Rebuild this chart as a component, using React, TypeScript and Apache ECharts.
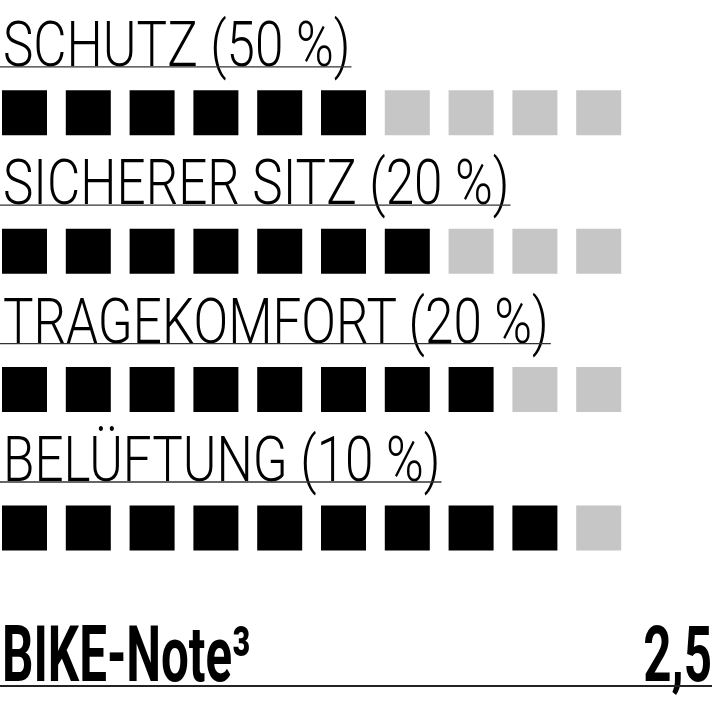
import { useEffect, useRef } from 'react';
import * as echarts from 'echarts';

const criteria = ['SCHUTZ (50 %)', 'SICHERER SITZ (20 %)', 'TRAGEKOMFORT (20 %)', 'BELÜFTUNG (10 %)'];
const scores = [6, 7, 8, 9];
const maxScore = 10;
const totalLabel = 'BIKE-Note³';
const totalValue = '2,5';

const FILLED = '#000000';
const EMPTY = '#c6c6c6';
const LABEL_FONT = '300 62px Roboto';
const LABEL_SCALE = 0.826;
const TOTAL_FONT = 'bold 77px Roboto';
const TOTAL_SCALE = 0.64;

let measureCtx: CanvasRenderingContext2D | null = null;
function textWidth(text: string, font: string) {
  if (!measureCtx) {
    measureCtx = document.createElement('canvas').getContext('2d');
  }
  if (!measureCtx) return text.length * 30;
  measureCtx.font = font;
  return measureCtx.measureText(text).width;
}

export default function App() {
  const chartRef = useRef<HTMLDivElement | null>(null);

  useEffect(() => {
    document.body.style.margin = '0';
    if (!chartRef.current) {
      return;
    }
    const chart = echarts.init(chartRef.current, null, { renderer: 'svg' });

    const squares = criteria.flatMap((_, row) =>
      Array.from({ length: maxScore }, (_, i) => ({
        value: [i, row],
        itemStyle: { color: i < scores[row] ? FILLED : EMPTY, opacity: 1 },
      })),
    );

    chart.setOption({
      animation: false,
      grid: { left: 24.5, right: 113.3, top: 112.8, bottom: 176 },
      xAxis: { type: 'value', min: 0, max: maxScore - 1, show: false },
      yAxis: { type: 'value', min: 0, max: criteria.length - 1, inverse: true, show: false },
      series: [
        {
          type: 'scatter',
          symbol: 'rect',
          symbolSize: 45,
          silent: true,
          itemStyle: { opacity: 1 },
          data: squares,
        },
        {
          // criterion label with underline, placed above each row of squares
          type: 'custom',
          silent: true,
          clip: false,
          data: criteria.map((_, row) => [0, row]),
          renderItem: (params: any, api: any) => {
            const row = api.value(1);
            const [, y] = api.coord([0, row]);
            const label = criteria[row];
            const lineEnd = 3 + textWidth(label, LABEL_FONT) * LABEL_SCALE + 1;
            return {
              type: 'group',
              children: [
                {
                  type: 'text',
                  x: 3,
                  y: y - 68,
                  scaleX: LABEL_SCALE,
                  style: {
                    text: label,
                    x: 0,
                    y: 0,
                    font: LABEL_FONT,
                    fill: '#000',
                    textAlign: 'left',
                    textVerticalAlign: 'middle',
                  },
                },
                {
                  type: 'line',
                  shape: { x1: 0, y1: y - 46, x2: lineEnd, y2: y - 46 },
                  style: { stroke: '#333', lineWidth: 1.3 },
                },
              ],
            };
          },
        },
      ],
      graphic: [
        {
          type: 'text',
          x: 2,
          y: 655,
          scaleX: TOTAL_SCALE,
          style: {
            text: totalLabel,
            x: 0,
            y: 0,
            font: TOTAL_FONT,
            fill: '#000',
            textAlign: 'left',
            textVerticalAlign: 'middle',
          },
        },
        {
          type: 'text',
          x: 712,
          y: 655,
          scaleX: TOTAL_SCALE,
          style: {
            text: totalValue,
            x: 0,
            y: 0,
            font: TOTAL_FONT,
            fill: '#000',
            textAlign: 'right',
            textVerticalAlign: 'middle',
          },
        },
        {
          type: 'line',
          shape: { x1: 0, y1: 686, x2: 712, y2: 686 },
          style: { stroke: '#222', lineWidth: 2 },
        },
      ],
    });

    return () => {
      chart.dispose();
    };
  }, []);

  return <div ref={chartRef} style={{ width: 712, height: 704 }} />;
}
